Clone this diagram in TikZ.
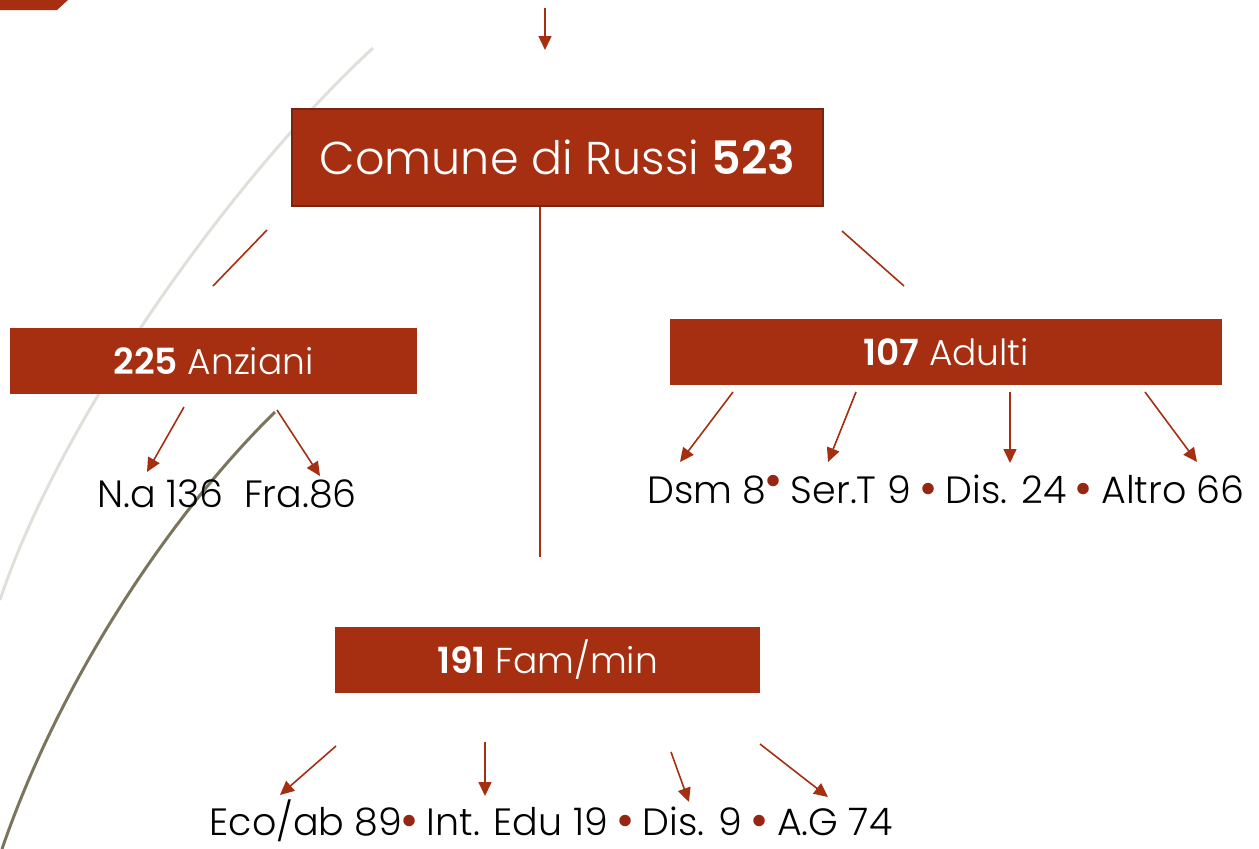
\documentclass[tikz,border=0pt]{standalone}
\usepackage{fontspec}
\setmainfont{Poppins}[UprightFont=* Light, BoldFont=* SemiBold]
\usetikzlibrary{arrows.meta, positioning}
\definecolor{russiRed}{RGB}{166, 47, 17}
\definecolor{russiDark}{RGB}{122, 36, 16}
\definecolor{dotRed}{RGB}{150, 38, 18}
\definecolor{arcGrey}{RGB}{224, 224, 218}
\definecolor{arcOlive}{RGB}{124, 117, 93}
\newcommand{\rdot}{\makebox[14pt]{\textcolor{dotRed}{\raisebox{-2pt}{\scalebox{1.3}{\textbullet}}}}}
\tikzset{
  countBox/.style={
    fill=russiRed,
    text=white,
    inner sep=0pt,
    minimum height=66pt,
    font=\fontsize{36}{40}\selectfont
  },
  topBox/.style={
    countBox,
    draw=russiDark,
    line width=2pt,
    minimum height=97pt,
    minimum width=531pt,
    font=\fontsize{46}{52}\selectfont
  },
  leafLine/.style={
    anchor=base,
    inner sep=0pt,
    font=\fontsize{38}{42}\selectfont
  },
  branch/.style={
    draw=russiRed,
    line width=1.6pt
  },
  arr/.style={
    branch,
    -{Triangle[length=14pt,width=13pt]}
  }
}
\begin{document}
\begin{tikzpicture}[x=1pt,y=-1pt]
  \useasboundingbox (0,0) rectangle (1259,849);
  % background arcs
  \draw[arcGrey, line width=3pt] (373,48) .. controls (230,180) and (60,420) .. (0,600);
  \draw[arcOlive, line width=3pt] (275,412) .. controls (170,515) and (60,680) .. (2,849);
  \fill[russiRed] (0,0) -- (68,0) -- (57,10) -- (0,10) -- cycle;

  % boxes
  \node[topBox] (comune) at (557.5,157.5) {Comune di Russi \textbf{523}};
  \node[countBox, minimum width=407pt] (anziani) at (213.5,361) {\textbf{225} Anziani};
  \node[countBox, minimum width=552pt] (adulti) at (946,352) {\textbf{107} Adulti};
  \node[countBox, minimum width=425pt] (fammin) at (547.5,660) {\textbf{191} Fam/min};

  % leaves
  \node[leafLine] (anzLeaf) at (227,507) {N.a 136\ \ Fra.86};
  \node[leafLine] (adLeaf) at (946,503) {Dsm 8\raisebox{8pt}{\rdot} Ser.T 9 \rdot\ Dis. 24 \rdot\ Altro 66};
  \node[leafLine] (famLeaf) at (551,835) {Eco/ab 89\rdot\ Int. Edu 19 \rdot\ Dis. 9 \rdot\ A.G 74};

  % connector ends
  \coordinate (inTop) at (545,8);   \coordinate (inTopt) at (545,50);
  \coordinate (stemL1) at (267,230);  \coordinate (stemL2) at (213,286);
  \coordinate (stemR1) at (842,231);  \coordinate (stemR2) at (904,286);
  \coordinate (stemEnd) at (540,557);
  \coordinate (anzA) at (184,407);  \coordinate (anzAt) at (147,472);
  \coordinate (anzB) at (277,410);  \coordinate (anzBt) at (320,476);
  \coordinate (adA) at (733,392);   \coordinate (adAt) at (680,462);
  \coordinate (adB) at (856,392);   \coordinate (adBt) at (828,462);
  \coordinate (adC) at (1010,392);  \coordinate (adCt) at (1010,463);
  \coordinate (adD) at (1145,392);  \coordinate (adDt) at (1197,462);
  \coordinate (famA) at (336,746);  \coordinate (famAt) at (280,795);
  \coordinate (famB) at (485,742);  \coordinate (famBt) at (485,796);
  \coordinate (famC) at (671,752);  \coordinate (famCt) at (689,802);
  \coordinate (famD) at (760,744);  \coordinate (famDt) at (828,797);

  \draw[branch] (stemL1) -- (stemL2);
  \draw[branch] (stemR1) -- (stemR2);
  \draw[branch] (comune.south -| stemEnd) -- (stemEnd);
  \foreach \s in {inTop,anzA,anzB,adA,adB,adC,adD,famA,famB,famC,famD}
    \draw[arr] (\s) -- (\s t);
\end{tikzpicture}
\end{document}
